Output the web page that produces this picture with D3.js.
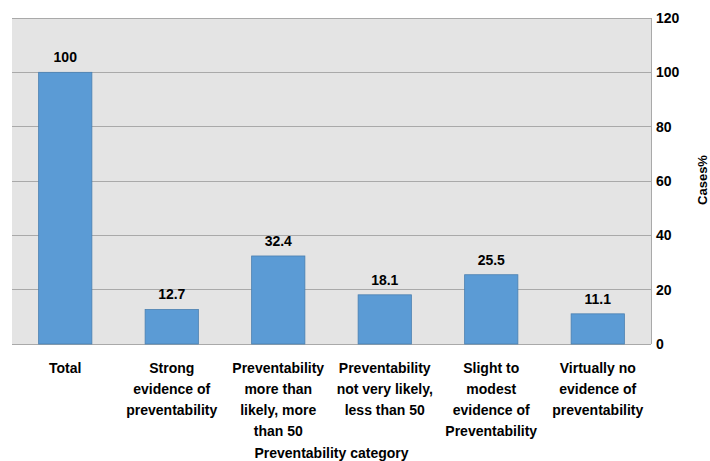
<!DOCTYPE html>
<html><head><meta charset="utf-8">
<script src="https://cdn.jsdelivr.net/npm/d3@7"></script>
<style>body{margin:0;background:#fff}text{font-family:"Liberation Sans",Arial,sans-serif;font-weight:bold;fill:#000}</style>
</head><body><svg id="c" width="710" height="461"></svg>
<script>
const categories = [
  ["Total"],
  ["Strong","evidence of","preventability"],
  ["Preventability","more than","likely, more","than 50"],
  ["Preventability","not very likely,","less than 50"],
  ["Slight to","modest","evidence of","Preventability"],
  ["Virtually no","evidence of","preventability"]
];
const values = [100, 12.7, 32.4, 18.1, 25.5, 11.1];
const yTicks = [0, 20, 40, 60, 80, 100, 120];
const xTitle = "Preventability category";
const yTitle = "Cases%";

const svg = d3.select("#c");
const L = 12, R = 651, T = 18, B = 344;
const x = d3.scaleBand().domain(d3.range(values.length)).range([L, R]).paddingInner(0.5).paddingOuter(0.25);
const y = d3.scaleLinear().domain([0, 120]).range([B, T]);

svg.append("rect").attr("x", L).attr("y", T).attr("width", R - L).attr("height", B - T).attr("fill", "#e4e4e4");
svg.append("g").selectAll("line").data(yTicks).join("line")
  .attr("x1", L).attr("x2", R).attr("y1", d => y(d)).attr("y2", d => y(d))
  .attr("stroke", "#a9a9a9").attr("stroke-width", 1).attr("shape-rendering", "crispEdges");
svg.append("line").attr("x1", R).attr("x2", R).attr("y1", T).attr("y2", B)
  .attr("stroke", "#a9a9a9").attr("shape-rendering", "crispEdges");

svg.append("g").selectAll("rect").data(values).join("rect")
  .attr("x", (d, i) => x(i)).attr("width", x.bandwidth())
  .attr("y", d => y(d)).attr("height", d => B - y(d))
  .attr("fill", "#5b9bd5").attr("stroke", "#4a7fb0").attr("stroke-width", 0.8);

svg.append("g").selectAll("text").data(values).join("text")
  .attr("x", (d, i) => x(i) + x.bandwidth() / 2).attr("y", d => y(d) - 10)
  .attr("text-anchor", "middle").attr("font-size", 14).text(d => d);

const ya = d3.axisRight(y).tickValues(yTicks).tickSize(0).tickPadding(0);
const yg = svg.append("g").attr("transform", `translate(${R + 5},0)`).call(ya);
yg.select(".domain").remove();
yg.selectAll("text").attr("font-size", 14).style("font-family", '"Liberation Sans",Arial,sans-serif').style("font-weight", "bold").attr("fill", "#000");

const cg = svg.append("g");
categories.forEach((lines, i) => {
  const t = cg.append("text").attr("x", x(i) + x.bandwidth() / 2).attr("y", 373)
    .attr("text-anchor", "middle").attr("font-size", 14);
  lines.forEach((ln, j) => t.append("tspan").attr("x", x(i) + x.bandwidth() / 2).attr("dy", j ? 21 : 0).text(ln));
});

svg.append("text").attr("x", (L + R) / 2).attr("y", 458).attr("text-anchor", "middle").attr("font-size", 14).text(xTitle);
svg.append("text").attr("transform", "translate(707,180) rotate(-90)").attr("text-anchor", "middle").attr("font-size", 13).text(yTitle);
</script></body></html>
